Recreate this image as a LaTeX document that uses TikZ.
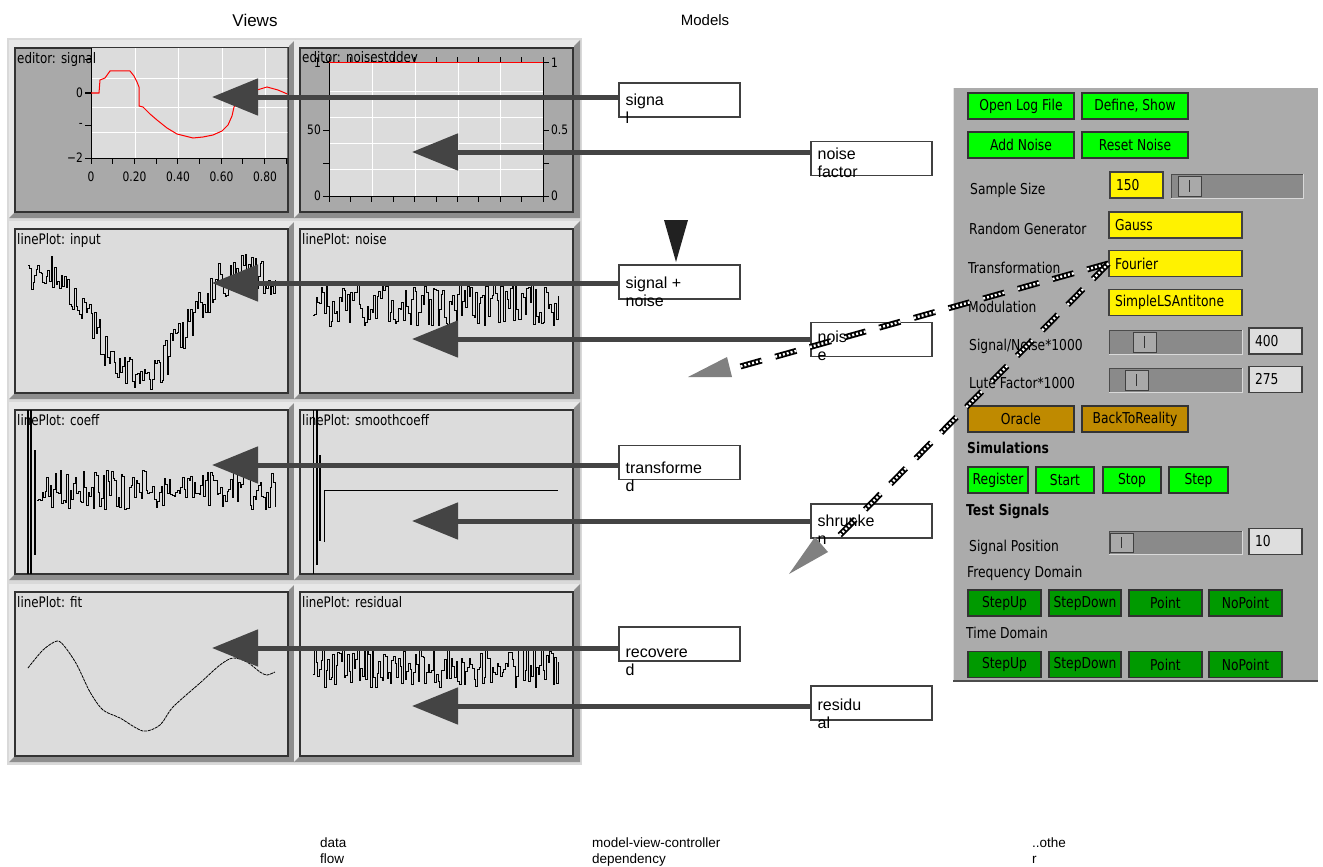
\documentclass[tikz,border=0pt]{standalone}
\usepackage{fontspec}
\setmainfont{Liberation Sans}
\newfontfamily\guifont{DejaVu Sans}[FakeStretch=0.82]
\usetikzlibrary{arrows.meta,positioning}

\definecolor{flowgray}{HTML}{444444}
\definecolor{viewbg}{HTML}{D9D9D9}
\definecolor{framelight}{HTML}{E8E8E8}
\definecolor{framedark}{HTML}{8E8E8E}
\definecolor{plotbg}{HTML}{DCDCDC}
\definecolor{editbg}{HTML}{A9A9A9}
\definecolor{ctrlbg}{HTML}{ABABAB}
\definecolor{btngreen}{HTML}{00FF00}
\definecolor{btndark}{HTML}{009A00}
\definecolor{btngold}{HTML}{BF8A00}
\definecolor{trough}{HTML}{8A8A8A}
\definecolor{valbg}{HTML}{DEDEDE}
\definecolor{headgray}{HTML}{808080}

\tikzset{
  flow/.style={draw=flowgray, line width=5pt, -{Triangle[length=46pt,width=36pt]}},
  mbox/.style={draw=black!75, fill=white, line width=1.2pt, minimum width=121pt, minimum height=34pt, inner sep=0pt},
  mtext/.style={anchor=base west, inner sep=0pt, align=left, font=\fontsize{16}{18}\selectfont},
  ptitle/.style={anchor=base west, inner sep=0pt, font=\guifont\fontsize{14.5}{14.5}\selectfont},
  ticklbl/.style={inner sep=0pt, font=\guifont\fontsize{13}{13}\selectfont},
  plotbox/.style={fill=plotbg, draw=black!80, line width=1.2pt},
  editbox/.style={fill=editbg, draw=black!80, line width=1.2pt},
  grid/.style={draw=white, line width=1pt},
  axis/.style={draw=black, line width=1pt},
  sigred/.style={draw=red, line width=1pt},
  noisy/.style={draw=black, line width=0.9pt},
  btn/.style={draw=black!80, line width=1.3pt, minimum height=26pt, inner sep=0pt, font=\guifont\fontsize{15}{15}\selectfont},
  gbtn/.style={btn, fill=btngreen, minimum width=#1},
  dbtn/.style={btn, fill=btndark, minimum width=#1},
  obtn/.style={btn, fill=btngold, minimum width=#1},
  field/.style={draw=black!75, line width=1.2pt, fill=yellow, minimum height=26pt, inner xsep=6pt, text width=#1, align=left, font=\guifont\fontsize{15}{15}\selectfont},
  valbox/.style={field=#1, fill=valbg},
  glabel/.style={anchor=base west, inner sep=0pt, font=\guifont\fontsize{15}{15}\selectfont},
  gbold/.style={glabel, font=\guifont\bfseries\fontsize{15}{15}\selectfont},
  thumb/.style={fill=editbg, draw=black!75, line width=1pt},
  ctrl/.style={line width=6pt, draw=black, dash pattern=on 22pt off 14pt,
    postaction={draw=white, line width=2.4pt,
      dash pattern=on 2pt off 2pt on 2pt off 2pt on 2pt off 2pt on 2pt off 2pt on 2pt off 2pt on 2pt off 14pt}},
  foot/.style={anchor=base west, inner sep=0pt, align=left, font=\fontsize{13.5}{16}\selectfont}
}

% slider: x0, y0, x1, y1, thumb left
\newcommand{\slider}[5]{%
  \fill[trough] (#1,#2) rectangle (#3,#4);
  \draw[black!70, line width=1pt] (#1,#4) -- (#1,#2) -- (#3,#2);
  \draw[white!85!black, line width=1pt] (#3,#2) -- (#3,#4) -- (#1,#4);
  \draw[thumb] (#5,#2+2) rectangle (#5+23,#4-2);
  \draw[black!80, line width=1pt] (#5+11.5,#2+6) -- (#5+11.5,#4-6);
}

\begin{document}
\begin{tikzpicture}[x=1pt, y=-1pt]
  \useasboundingbox (0,0) rectangle (1323,867);
  \pgfmathsetseed{150}

  % headings
  \node[font=\fontsize{17}{17}\selectfont] (views) at (255,20) {Views};
  \node[font=\fontsize{15}{15}\selectfont] (models) at (705,20) {Models};

  % view panels
  \fill[viewbg] (7,38) rectangle (582,765);
  \foreach \py in {40,221,402,584}{
    \foreach \px in {9,294}{
      \fill[framelight] (\px,\py) rectangle ++(286,178);
      \fill[framedark] (\px+286,\py) -- ++(0,178) -- ++(-286,0) -- ++(6,-6) -- ++(274,0) -- ++(0,-166) -- cycle;
      \filldraw[plotbox] (\px+6,\py+8) rectangle (\px+279,\py+172);
    }
  }

  % editor: signal
  \filldraw[editbox] (15,48) rectangle (288,212);
  \begin{scope}
    \clip (15.6,48.6) rectangle (287.4,211.4);
    \fill[plotbg] (91,48) rectangle (292,158);
    \foreach \gx in {135,178,222,265} \draw[grid] (\gx,48) -- (\gx,158);
    \foreach \gy in {79,107,132} \draw[grid] (91,\gy) -- (292,\gy);
    \node[ptitle] (ttsig) at (17,64) {editor: signal};
    \draw[axis] (91,48) -- (91,158) -- (292,158);
    \foreach \tx in {91,112.7,...,290} \draw[axis] (\tx,158) -- (\tx,164);
    \foreach \tx/\tl in {91/0,134.5/0.20,178/0.40,221.5/0.60,265/0.80}
      \node[ticklbl] at (\tx,177) {\tl};
    \foreach \ty in {60,93,125,158} \draw[axis] (85,\ty) -- (91,\ty);
    \node[ticklbl, anchor=east] at (83,93) {0};
    \node[ticklbl, anchor=east] at (83,125) {-};
    \node[ticklbl, anchor=east] at (83,158) {−2};
    \draw[sigred] (91,93) -- (99,93) -- (100,80) -- (105,78) -- (110,71) -- (130,71) -- (134,76)
      -- (137,82) -- (139,87) -- (139,106) -- (143,107) -- (150,114) -- (157,120) -- (167,128)
      -- (177,134) -- (193,138) -- (203,137) -- (213,135) -- (222,131) -- (228,125) -- (232,116)
      -- (234,107) -- (238,103) -- (247,96) -- (257,90) -- (267,87) -- (278,90) -- (292,96);
  \end{scope}

  % editor: noisestddev
  \filldraw[editbox] (300,48) rectangle (573,212);
  \fill[plotbg] (329,63) rectangle (543,196);
  \foreach \gx in {372,415,458,500} \draw[grid] (\gx,63) -- (\gx,196);
  \foreach \gy in {92,117,143,169} \draw[grid] (329,\gy) -- (543,\gy);
  \node[ptitle] (ttstd) at (302,63) {editor: noisestddev};
  \draw[axis] (329,63) rectangle (543,196);
  \foreach \tx in {329,350.4,...,544} {
    \draw[axis] (\tx,196) -- (\tx,202);
    \draw[axis] (\tx,63) -- (\tx,57);
  }
  \foreach \ty in {63,96.5,130,163,196} {
    \draw[axis] (323,\ty) -- (329,\ty);
    \draw[axis] (543,\ty) -- (549,\ty);
  }
  \node[ticklbl, anchor=east] at (321,63) {1};
  \node[ticklbl, anchor=east] at (321,130) {50};
  \node[ticklbl, anchor=east] at (321,196) {0};
  \node[ticklbl, anchor=west] at (551,63) {1};
  \node[ticklbl, anchor=west] at (551,130) {0.5};
  \node[ticklbl, anchor=west] at (551,196) {0};
  \draw[sigred] (329,63) -- (543,63);

  % line plots
  \node[ptitle] (ttin)  at (17,244)  {linePlot: input};
  \node[ptitle] (ttno)  at (302,244) {linePlot: noise};
  \node[ptitle] (ttco)  at (17,425)  {linePlot: coeff};
  \node[ptitle] (ttsc)  at (302,425) {linePlot: smoothcoeff};
  \node[ptitle] (ttfit) at (17,607)  {linePlot: fit};
  \node[ptitle] (ttres) at (302,607) {linePlot: residual};

  \begin{scope}
    \clip (15.6,229.6) rectangle (287.4,392.4);
    \draw[noisy] plot[const plot, domain=28:275, samples=150] (\x,{322+52*cos((\x-140)*1.75)+20*rand});
  \end{scope}
  \begin{scope}
    \clip (300.6,229.6) rectangle (572.4,392.4);
    \draw[noisy] plot[const plot, domain=313:558, samples=150] (\x,{305+21*rand});
  \end{scope}
  \begin{scope}
    \clip (15.6,410.6) rectangle (287.4,573.4);
    \draw[noisy, line width=1.6pt] (28,410) -- (28,574);
    \draw[noisy, line width=1.6pt] (31,410) -- (31,574);
    \draw[noisy, line width=2pt] (35,450) -- (35,555);
    \draw[noisy] plot[const plot, domain=37:275, samples=145] (\x,{490+20*rand});
  \end{scope}
  \begin{scope}
    \clip (300.6,410.6) rectangle (572.4,573.4);
    \draw[noisy] (313,410) -- (313,574);
    \draw[noisy, line width=1.6pt] (317,410) -- (317,565);
    \draw[noisy, line width=2.2pt] (320,455) -- (320,541);
    \draw[noisy] (324,542) -- (324,490) -- (558,490);
  \end{scope}
  \begin{scope}
    \clip (15.6,592.6) rectangle (287.4,755.4);
    \draw[noisy, line width=0.8pt, dash pattern=on 3pt off 0.8pt] plot[smooth] coordinates {(28,668) (43,650) (57,641)
      (65,647) (77,665) (90,692) (103,710) (120,718) (143,731) (160,725) (173,707) (200,683)
      (220,665) (233,658) (247,662) (260,672) (267,675) (275,672)};
  \end{scope}
  \begin{scope}
    \clip (300.6,592.6) rectangle (572.4,755.4);
    \draw[noisy] plot[const plot, domain=313:558, samples=150] (\x,{668+20*rand});
  \end{scope}

  % models
  \node[mbox] (sig)  at (679.5,100) {};
  \node[mbox] (nfac) at (871.5,158.5) {};
  \node[mbox] (sn)   at (679.5,282) {};
  \node[mbox] (nse)  at (871.5,339.5) {};
  \node[mbox] (trf)  at (679.5,462.5) {};
  \node[mbox] (shr)  at (871.5,521) {};
  \node[mbox] (rec)  at (679.5,644) {};
  \node[mbox] (res)  at (871.5,703) {};

  \coordinate (sigtip)  at (212,97);
  \coordinate (nfactip) at (412,152);
  \coordinate (sntip)   at (212,283);
  \coordinate (nsetip)  at (412,339);
  \coordinate (trftip)  at (212,465);
  \coordinate (shrtip)  at (412,521);
  \coordinate (rectip)  at (212,648);
  \coordinate (restip)  at (412,706);

  \draw[flow] (sigtip -| sig.west) -- (sigtip);
  \draw[flow] (nfactip -| nfac.west) -- (nfactip);
  \draw[flow] (sntip -| sn.west) -- (sntip);
  \draw[flow] (nsetip -| nse.west) -- (nsetip);
  \draw[flow] (trftip -| trf.west) -- (trftip);
  \draw[flow] (shrtip -| shr.west) -- (shrtip);
  \draw[flow] (rectip -| rec.west) -- (rectip);
  \draw[flow] (restip -| res.west) -- (restip);

  % base of a two-line label is its second line
  \node[mtext] at ([xshift=7pt,yshift=-41pt]sig.north west)  {signa\\l};
  \node[mtext] at ([xshift=7pt,yshift=-37pt]nfac.north west) {noise\\factor};
  \node[mtext] at ([xshift=7pt,yshift=-42pt]sn.north west)   {signal +\\noise};
  \node[mtext] at ([xshift=7pt,yshift=-39pt]nse.north west)  {nois\\e};
  \node[mtext] at ([xshift=7pt,yshift=-47pt]trf.north west)  {transforme\\d};
  \node[mtext] at ([xshift=7pt,yshift=-41pt]shr.north west)  {shrunke\\n};
  \node[mtext] at ([xshift=7pt,yshift=-49pt]rec.north west)  {recovere\\d};
  \node[mtext] at ([xshift=7pt,yshift=-43pt]res.north west)  {residu\\al};

  % controller
  \fill[ctrlbg] (953,88) rectangle (1318,681);
  \draw[white!90!black, line width=1pt] (953.5,681) -- (953.5,88);
  \draw[black!70, line width=1.5pt] (953,681) -- (1318,681);

  \node[gbtn=106pt] (openlog) at (1021,106) {Open Log File};
  \node[gbtn=106pt] (define)  at (1135,106) {Define, Show};
  \node[gbtn=106pt] (addn)    at (1021,145) {Add Noise};
  \node[gbtn=106pt] (resetn)  at (1135,145) {Reset Noise};

  \node[glabel] (lsize)  at (970,194) {Sample Size};
  \node[field=41pt] (ssize) at (1136.5,185) {150};
  \slider{1171}{174}{1303}{198}{1178}
  \node[glabel] (lrand)  at (969,234) {Random Generator};
  \node[field=121pt] (gauss) at (1175.5,225) {Gauss};
  \node[glabel] (ltrf)   at (968,273) {Transformation};
  \node[field=121pt] (fourier) at (1175.5,263.5) {Fourier};
  \node[glabel] (lmod)   at (968,312) {Modulation};
  \node[field=121pt] (modul) at (1175.5,302.5) {SimpleLSAntitone};

  \node[glabel] (lsnr)   at (969,350) {Signal/Noise*1000};
  \slider{1109}{330}{1242}{354}{1133}
  \node[valbox=41pt] (vsnr) at (1275.5,341) {400};
  \node[glabel] (llute)  at (969,388) {Lute Factor*1000};
  \slider{1109}{368}{1242}{392}{1125}
  \node[valbox=41pt] (vlute) at (1275.5,379.5) {275};

  \node[obtn=106pt] (oracle) at (1021,419) {Oracle};
  \node[obtn=106pt] (backre) at (1135,419) {BackToReality};

  \node[gbold] (lsim) at (967,453) {Simulations};
  \node[gbtn=60pt] (regis) at (998,480) {Register};
  \node[gbtn=58pt] (start) at (1065,480) {Start};
  \node[gbtn=58pt] (stop)  at (1132,480) {Stop};
  \node[gbtn=59pt] (stepb) at (1198.5,480) {Step};

  \node[gbold] (ltest) at (966,515) {Test Signals};
  \node[glabel] (lpos) at (969,551) {Signal Position};
  \slider{1109}{531}{1242}{554}{1110}
  \node[valbox=41pt] (vpos) at (1275.5,541.5) {10};

  \node[glabel] (lfreq) at (967,577) {Frequency Domain};
  \node[dbtn=73pt] (fup)   at (1004.5,603) {StepUp};
  \node[dbtn=72pt] (fdown) at (1085,603) {StepDown};
  \node[dbtn=73pt] (fpt)   at (1165.5,603) {Point};
  \node[dbtn=73pt] (fnopt) at (1245.5,603) {NoPoint};

  \node[glabel] (ltime) at (966,638) {Time Domain};
  \node[dbtn=73pt] (tup)   at (1004.5,664.5) {StepUp};
  \node[dbtn=72pt] (tdown) at (1085,664.5) {StepDown};
  \node[dbtn=73pt] (tpt)   at (1165.5,664.5) {Point};
  \node[dbtn=73pt] (tnopt) at (1245.5,664.5) {NoPoint};

  % controller links
  \coordinate (ctrla) at (735,368);
  \coordinate (ctrlb) at (831,544);
  \draw[ctrl] (fourier.west) -- (ctrla);
  \draw[ctrl] (fourier.west) -- (ctrlb);
  \fill[headgray] (688,377) -- (727,357) -- (732,377) -- cycle;
  \fill[headgray] (789,574) -- (815,537) -- (828,552) -- cycle;
  \fill[black!87] (664,220) -- (688,220) -- (676,262) -- cycle;

  % legend
  \node[foot] (ldata) at (320,863) {data\\flow};
  \node[foot] (lmvc)  at (592,863) {model-view-controller\\dependency};
  \node[foot] (lother) at (1032,863) {..othe\\r};
\end{tikzpicture}
\end{document}
